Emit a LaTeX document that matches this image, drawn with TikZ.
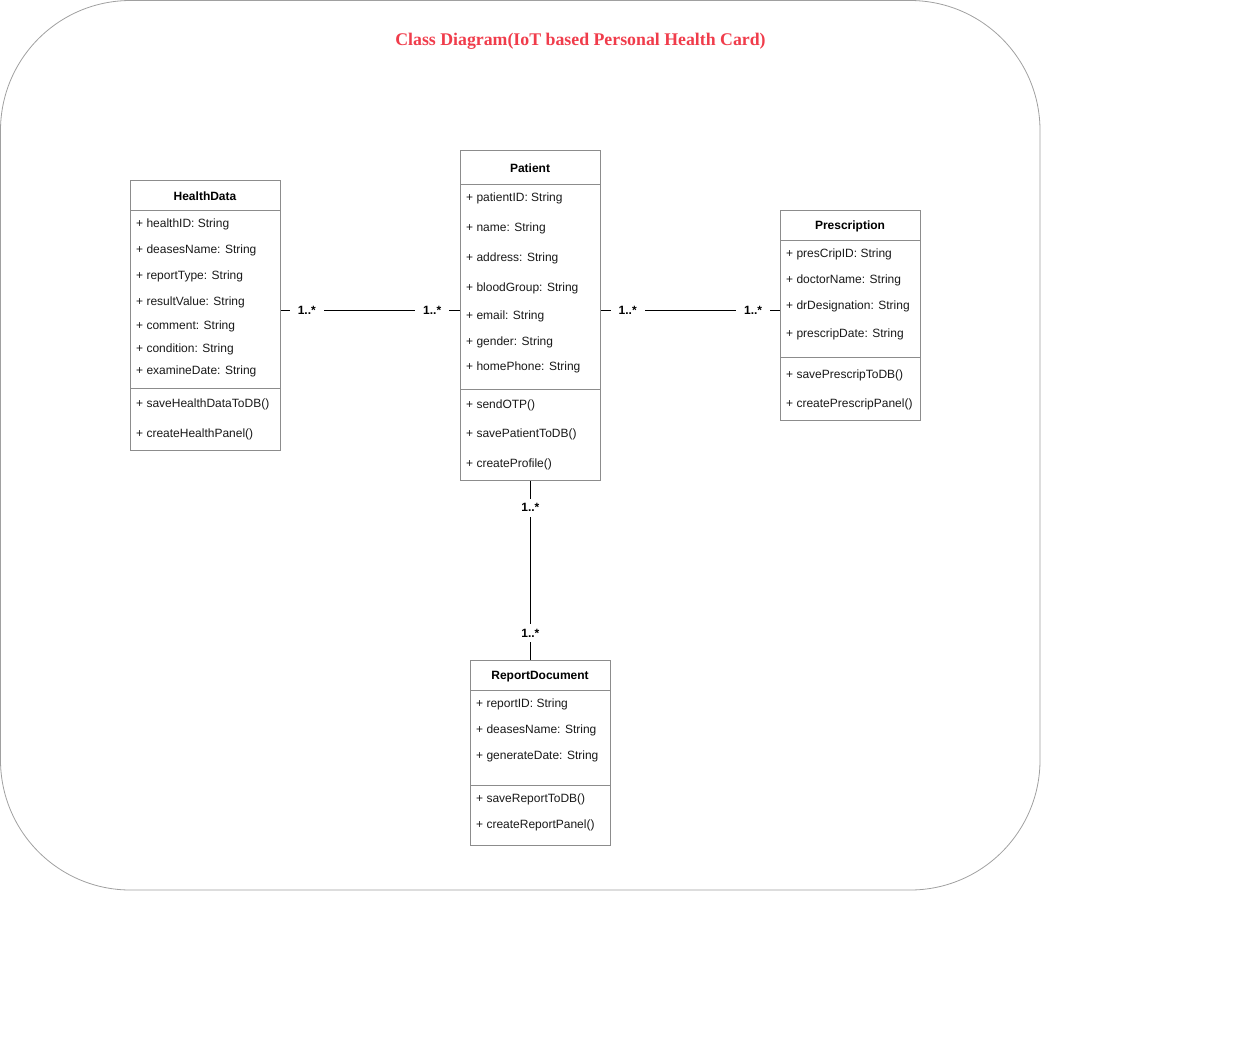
\documentclass[tikz,border=0pt]{standalone}
\usepackage{fontspec}
\setmainfont{Liberation Sans}
\newfontfamily\titlefont{Liberation Serif}
\usepackage{tikz}
\usetikzlibrary{positioning}
\definecolor{framegray}{RGB}{160,160,160}
\definecolor{boxgray}{RGB}{140,140,140}
\definecolor{titlered}{RGB}{240,60,75}
\tikzset{
classbox/.style={draw=boxgray, line width=0.8pt, anchor=north west, inner sep=0pt},
boxline/.style={draw=boxgray, line width=0.8pt},
member/.style={anchor=west, inner sep=0pt, yshift=-1.5pt, text=black!90, font=\fontsize{12}{14}\selectfont},
classname/.style={inner sep=0pt, yshift=-1.2pt, font=\bfseries\fontsize{12}{14}\selectfont},
mult/.style={fill=white, inner xsep=8pt, inner ysep=5pt, font=\bfseries\fontsize{12}{14}\selectfont},
assoc/.style={draw=black, line width=0.9pt}}

\begin{document}
\begin{tikzpicture}[x=1pt, y=-1pt]
    \useasboundingbox (0,0) rectangle (1241,1061);
    \draw[framegray, line width=0.8pt, rounded corners=130pt] (0.5,0.5) rectangle (1040,890);
    \node[text=titlered, font=\titlefont\bfseries\fontsize{17.8}{21}\selectfont] (title) at (580.5,41) {Class Diagram(IoT based Personal Health Card)};

    % HealthData
    \node[classbox, minimum width=150pt, minimum height=270pt] (HD) at (130,180) {};
    \draw[boxline] ([yshift=-30pt]HD.north west) -- ([yshift=-30pt]HD.north east);
    \draw[boxline] ([yshift=-208pt]HD.north west) -- ([yshift=-208pt]HD.north east);
    \node[classname] (hd0) at (205,195) {HealthData};
    \node[member] (hd1) at (136,223) {+ healthID: String};
    \node[member] (hd2) at (136,249) {+ deasesName: String};
    \node[member] (hd3) at (136,275) {+ reportType: String};
    \node[member] (hd4) at (136,301) {+ resultValue: String};
    \node[member] (hd5) at (136,325) {+ comment: String};
    \node[member] (hd6) at (136,348) {+ condition: String};
    \node[member] (hd7) at (136,370) {+ examineDate: String};
    \node[member] (hd8) at (136,403) {+ saveHealthDataToDB()};
    \node[member] (hd9) at (136,433) {+ createHealthPanel()};

    % Patient
    \node[classbox, minimum width=140pt, minimum height=330pt] (P) at (460,150) {};
    \draw[boxline] ([yshift=-34pt]P.north west) -- ([yshift=-34pt]P.north east);
    \draw[boxline] ([yshift=-239pt]P.north west) -- ([yshift=-239pt]P.north east);
    \node[classname] (p0) at (530,167) {Patient};
    \node[member] (p1) at (466,197) {+ patientID: String};
    \node[member] (p2) at (466,227) {+ name: String};
    \node[member] (p3) at (466,257) {+ address: String};
    \node[member] (p4) at (466,287) {+ bloodGroup: String};
    \node[member] (p5) at (466,315) {+ email: String};
    \node[member] (p6) at (466,341) {+ gender: String};
    \node[member] (p7) at (466,366) {+ homePhone: String};
    \node[member] (p8) at (466,404) {+ sendOTP()};
    \node[member] (p9) at (466,433) {+ savePatientToDB()};
    \node[member] (p10) at (466,463) {+ createProfile()};

    % Prescription
    \node[classbox, minimum width=140pt, minimum height=210pt] (PR) at (780,210) {};
    \draw[boxline] ([yshift=-30pt]PR.north west) -- ([yshift=-30pt]PR.north east);
    \draw[boxline] ([yshift=-147pt]PR.north west) -- ([yshift=-147pt]PR.north east);
    \node[classname] (pr0) at (850,225) {Prescription};
    \node[member] (pr1) at (786,253) {+ presCripID: String};
    \node[member] (pr2) at (786,279) {+ doctorName: String};
    \node[member] (pr3) at (786,305) {+ drDesignation: String};
    \node[member] (pr4) at (786,333) {+ prescripDate: String};
    \node[member] (pr5) at (786,374) {+ savePrescripToDB()};
    \node[member] (pr6) at (786,403) {+ createPrescripPanel()};

    % ReportDocument
    \node[classbox, minimum width=140pt, minimum height=185pt] (RD) at (470,660) {};
    \draw[boxline] ([yshift=-30pt]RD.north west) -- ([yshift=-30pt]RD.north east);
    \draw[boxline] ([yshift=-125pt]RD.north west) -- ([yshift=-125pt]RD.north east);
    \node[classname] (rd0) at (540,675) {ReportDocument};
    \node[member] (rd1) at (476,703) {+ reportID: String};
    \node[member] (rd2) at (476,729) {+ deasesName: String};
    \node[member] (rd3) at (476,755) {+ generateDate: String};
    \node[member] (rd4) at (476,798) {+ saveReportToDB()};
    \node[member] (rd5) at (476,824) {+ createReportPanel()};

    % associations
    \draw[assoc] ([yshift=5pt]HD.east) -- ([yshift=5pt]P.west)
        node[mult, pos=0.145] {1..*} node[mult, pos=0.845] {1..*};
    \draw[assoc] ([yshift=5pt]P.east) -- ([yshift=5pt]PR.west)
        node[mult, pos=0.15] {1..*} node[mult, pos=0.85] {1..*};
    \draw[assoc] (P.south) -- (P.south |- RD.north)
        node[mult, pos=0.15] {1..*} node[mult, pos=0.85] {1..*};

\end{tikzpicture}
\end{document}
